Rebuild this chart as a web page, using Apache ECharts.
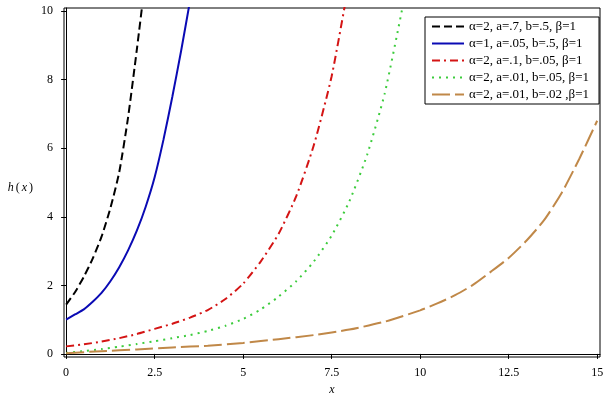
<!DOCTYPE html>
<html>
<head>
<meta charset="utf-8">
<script src="https://cdn.jsdelivr.net/npm/echarts@6/dist/echarts.min.js"></script>
<style>
  html, body { margin: 0; padding: 0; background: #fff; }
  #chart { width: 608px; height: 393px; }
</style>
</head>
<body>
<div id="chart"></div>
<script>
// values
const xTicks = [0, 2.5, 5, 7.5, 10, 12.5, 15];
const yTicks = [0, 2, 4, 6, 8, 10];

const names = [
    'α=2, a=.7, b=.5, β=1',
    'α=1, a=.05, b=.5, β=1',
    'α=2, a=.1, b=.05, β=1',
    'α=2, a=.01, b=.05, β=1',
    'α=2, a=.01, b=.02 ,β=1'
];

const blackX = [0, 0.25, 0.5, 0.75, 1, 1.25, 1.5, 1.75, 2, 2.2];
const blackY = [1.44, 1.8, 2.25, 2.78, 3.42, 4.25, 5.3, 6.9, 8.9, 10.6];

const blueX = [0, 0.25, 0.5, 0.75, 1, 1.25, 1.5, 1.75, 2, 2.25, 2.5, 2.75, 3, 3.25, 3.5];
const blueY = [1.0, 1.15, 1.3, 1.52, 1.78, 2.12, 2.53, 3.02, 3.6, 4.3, 5.15, 6.25, 7.5, 8.85, 10.3];

const redX = [0, 0.5, 1, 1.5, 2, 2.5, 3, 3.5, 4, 4.5, 5, 5.5, 6, 6.5, 7, 7.5, 8];
const redY = [0.22, 0.28, 0.36, 0.46, 0.58, 0.73, 0.88, 1.06, 1.28, 1.6, 2.05, 2.7, 3.5, 4.6, 6.1, 8.1, 10.9];

const greenX = [0, 0.5, 1, 1.5, 2, 2.5, 3, 3.5, 4, 4.5, 5, 5.5, 6, 6.5, 7, 7.5, 8, 8.5, 9, 9.5];
const greenY = [0.03, 0.08, 0.14, 0.21, 0.29, 0.37, 0.46, 0.55, 0.67, 0.82, 1.02, 1.3, 1.67, 2.12, 2.7, 3.45, 4.45, 5.8, 7.6, 10.1];

const brownX = [0, 1, 2, 3, 4, 5, 6, 7, 8, 9, 10, 10.5, 11, 11.5, 12, 12.5, 13, 13.5, 14, 14.5, 15];
const brownY = [0.02, 0.08, 0.13, 0.19, 0.24, 0.32, 0.43, 0.55, 0.71, 0.94, 1.27, 1.48, 1.72, 2.02, 2.4, 2.8, 3.3, 3.9, 4.7, 5.7, 6.8];

const colors = ['#000000', '#0a0ab4', '#d41414', '#3ccc3c', '#c08848'];
const dashes = [[8, 4], 'solid', [8, 4, 2, 4], [2, 5], [18, 5]];

const serif = '"Liberation Serif", "DejaVu Serif", serif';

function pairs(xs, ys) {
    return xs.map((x, i) => [x, ys[i]]);
}

const curves = [
    pairs(blackX, blackY),
    pairs(blueX, blueY),
    pairs(redX, redY),
    pairs(greenX, greenY),
    pairs(brownX, brownY)
];

const chart = echarts.init(document.getElementById('chart'));

chart.setOption({
    animation: false,
    backgroundColor: '#fff',
    grid: {
        left: 64, right: 8, top: 8, bottom: 36,
        outerBoundsMode: 'none',
        show: true, borderColor: '#000', borderWidth: 1
    },
    legend: {
        orient: 'vertical',
        left: 425, top: 17,
        padding: [3, 10, 3, 6],
        borderColor: '#000', borderWidth: 1,
        itemWidth: 32, itemHeight: 12, itemGap: 4, itemTextGap: 7,
        itemStyle: { opacity: 0 },
        textStyle: { fontFamily: serif, fontSize: 13, color: '#000' },
        data: names
    },
    xAxis: {
        type: 'value',
        min: -0.06, max: 15.08,
        name: 'x',
        nameLocation: 'middle',
        nameGap: 17,
        nameTextStyle: { fontFamily: serif, fontStyle: 'italic', fontSize: 12, color: '#000' },
        splitLine: { show: false },
        axisLine: { show: true, lineStyle: { color: '#000' } },
        axisTick: { show: true, length: 5, customValues: xTicks, lineStyle: { color: '#000' } },
        axisLabel: {
            customValues: xTicks, margin: 10,
            fontFamily: serif, fontSize: 12, color: '#000'
        }
    },
    yAxis: {
        type: 'value',
        min: -0.09, max: 10.09,
        name: '{i|h}({i|x})',
        nameLocation: 'middle',
        nameRotate: 0,
        nameGap: 31,
        nameTextStyle: {
            fontFamily: serif, fontSize: 12, color: '#000', padding: [10, 0, 0, 0],
            rich: { i: { fontFamily: serif, fontStyle: 'italic', fontSize: 12, color: '#000', padding: [0, 2, 0, 2] } }
        },
        splitLine: { show: false },
        axisLine: { show: true, lineStyle: { color: '#000' } },
        axisTick: { show: true, length: 5, customValues: yTicks, lineStyle: { color: '#000' } },
        axisLabel: {
            customValues: yTicks, margin: 11,
            fontFamily: serif, fontSize: 12, color: '#000'
        }
    },
    series: curves.map((data, i) => ({
        name: names[i],
        type: 'line',
        data: data,
        smooth: 0.2,
        symbol: 'none',
        clip: true,
        lineStyle: { color: colors[i], width: 2, type: dashes[i] },
        itemStyle: { color: colors[i] }
    }))
});
</script>
</body>
</html>
